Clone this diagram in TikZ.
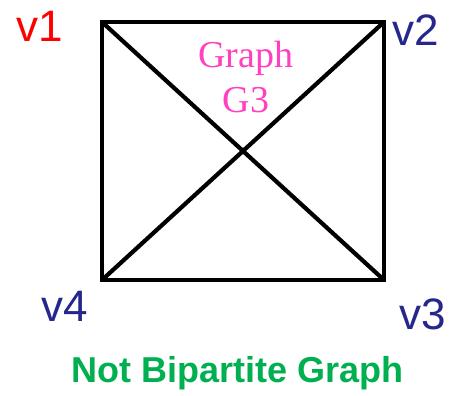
\documentclass[tikz,border=0pt]{standalone}
\usepackage{fontspec}
\setmainfont{Liberation Serif}
\setsansfont{Liberation Sans}
\definecolor{vred}{RGB}{255,0,0}
\definecolor{vblue}{RGB}{38,38,140}
\definecolor{gmag}{RGB}{255,64,192}
\definecolor{ngreen}{RGB}{0,176,80}
\begin{document}
\begin{tikzpicture}[x=1pt,y=-1pt,
  vert/.style={inner sep=0,outer sep=0,minimum size=0},
  vlab/.style={inner sep=0,anchor=base west,font=\sffamily\fontsize{44}{44}\selectfont},
  edge/.style={line width=4.2pt,line cap=rect,line join=miter}]
\useasboundingbox (0,0) rectangle (450,396);
\node[vert] (a) at (102,22) {};
\node[vert] (b) at (384,22) {};
\node[vert] (c) at (384,280) {};
\node[vert] (d) at (102,280) {};
\draw[edge] (a.center) -- (b.center) -- (c.center) -- (d.center) -- cycle;
\draw[edge,line cap=butt] (a.center) -- (c.center);
\draw[edge,line cap=butt] (b.center) -- (d.center);
\node[vlab,text=vred] (l1) at (16,42) {v1};
\node[vlab,text=vblue] (l2) at (392,46) {v2};
\node[vlab,text=vblue] (l3) at (399,329) {v3};
\node[vlab,text=vblue] (l4) at (41,321) {v4};
\node[inner sep=0,anchor=base,text=gmag,font=\fontsize{38}{45}\selectfont,align=center] (g) at (246,113) {Graph\\G3};
\node[inner sep=0,anchor=base,text=ngreen,font=\sffamily\bfseries\fontsize{36}{36}\selectfont] (t) at (238,382) {Not Bipartite Graph};
\end{tikzpicture}
\end{document}
